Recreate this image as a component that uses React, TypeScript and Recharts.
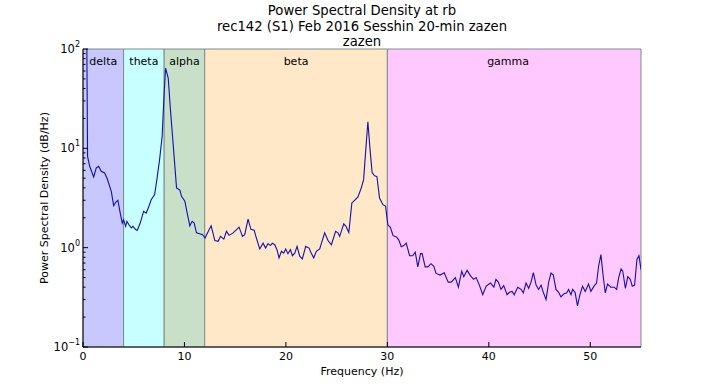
import React from 'react';
import {
  LineChart,
  Line,
  XAxis,
  YAxis,
  ReferenceArea,
  ReferenceDot,
} from 'recharts';

// Frequency (Hz) of each traced vertex
const freqs = [
  0.35, 0.45, 0.66, 1.05, 1.31, 1.54, 1.8, 2.13, 2.36, 2.79, 3.02, 3.22, 3.44, 3.67, 3.87,
  4.0, 4.2, 4.33, 4.53, 4.76, 4.92, 5.19, 5.35, 5.64, 5.97, 6.23, 6.5, 6.72, 7.06, 7.28,
  7.55, 7.8, 7.97, 8.14, 8.4, 8.63, 8.89, 9.22, 9.55, 9.71, 10.04, 10.27, 10.53, 10.76,
  10.96, 11.19, 11.5, 11.78, 12.04, 12.4, 12.63, 13.0, 13.32, 13.55, 13.88, 14.14, 14.4,
  14.8, 15.13, 15.38, 15.72, 15.94, 16.27, 16.55, 16.87, 17.09, 17.42, 17.75, 18.0, 18.24,
  18.47, 18.66, 18.9, 19.12, 19.32, 19.56, 19.78, 19.98, 20.2, 20.44, 20.64, 20.87, 21.1,
  21.36, 21.62, 21.95, 22.28, 22.5, 22.74, 23.0, 23.33, 23.82, 24.15, 24.48, 24.9, 25.13,
  25.3, 25.7, 25.92, 26.2, 26.5, 26.77, 27.1, 27.43, 27.66, 27.85, 28.08, 28.32, 28.5,
  28.74, 28.97, 29.23, 29.56, 29.82, 30.05, 30.3, 30.56, 30.9, 31.12, 31.37, 31.62, 31.86,
  32.19, 32.5, 32.75, 33.0, 33.27, 33.43, 33.73, 34.0, 34.3, 34.58, 34.8, 35.2, 35.6, 36.0,
  36.3, 36.7, 37.0, 37.33, 37.53, 37.86, 38.2, 38.5, 38.75, 39.07, 39.4, 39.74, 40.16,
  40.5, 40.7, 40.94, 41.2, 41.47, 41.8, 42.03, 42.3, 42.5, 42.85, 43.18, 43.4, 43.67,
  43.93, 44.16, 44.39, 44.66, 44.91, 45.15, 45.37, 45.64, 45.9, 46.13, 46.36, 46.62,
  46.88, 47.1, 47.44, 47.67, 47.86, 48.1, 48.26, 48.5, 48.74, 48.98, 49.24, 49.5, 49.83,
  50.06, 50.4, 50.62, 50.82, 51.05, 51.28, 51.48, 51.7, 52.03, 52.36, 52.6, 52.8, 53.04,
  53.2, 53.46, 53.7, 53.94, 54.14, 54.37, 54.6, 54.8, 55.0,
];

// Power spectral density at each vertex
const psd = [
  300, 8.3, 6.6, 5.15, 6.35, 6.6, 5.87, 5.65, 5.03, 3.69, 2.65, 2.86, 3.0, 2.23, 1.77,
  1.91, 1.64, 1.84, 1.7, 1.58, 1.64, 1.52, 1.49, 1.77, 2.32, 2.23, 2.61, 3.04, 3.42, 4.84,
  7.7, 13.2, 31, 64, 51, 23.6, 10.9, 4.0, 3.8, 3.29, 2.93, 2.23, 1.66, 1.84,
  1.77, 1.41, 1.38, 1.35, 1.25, 1.5, 1.66, 1.18, 1.16, 1.3, 1.22, 1.46, 1.33,
  1.41, 1.52, 1.61, 1.3, 1.35, 1.94, 1.53, 1.5, 1.25, 0.97, 1.11, 0.99, 1.1,
  1.05, 1.11, 1.07, 0.955, 0.79, 0.92, 0.88, 0.97, 0.87, 0.955, 0.83, 0.88, 1.03,
  0.82, 0.77, 1.03, 0.99, 0.88, 0.79, 0.92, 0.97, 1.41, 1.18, 1.07, 1.46, 1.41,
  1.3, 1.74, 1.64, 1.42, 2.82, 3.0, 3.24, 4.0, 4.84, 9.0, 18.5, 9.0, 5.7,
  5.3, 5.2, 3.16, 2.71, 2.62, 1.7, 1.6, 1.32, 1.28, 1.2, 1.02, 1.05, 1.11,
  0.83, 0.83, 0.9, 0.64, 0.87, 0.87, 0.64, 0.64, 0.69, 0.65, 0.55, 0.53, 0.56, 0.45,
  0.45, 0.5, 0.4, 0.58, 0.51, 0.59, 0.52, 0.48, 0.5, 0.42, 0.336, 0.41, 0.44,
  0.4, 0.48, 0.45, 0.38, 0.415, 0.336, 0.355, 0.363, 0.336, 0.4, 0.38, 0.35, 0.44,
  0.39, 0.45, 0.56, 0.42, 0.38, 0.42, 0.355, 0.3, 0.45, 0.555, 0.53, 0.38,
  0.355, 0.32, 0.345, 0.35, 0.38, 0.336, 0.38, 0.355, 0.26, 0.336, 0.41, 0.363, 0.43,
  0.363, 0.415, 0.44, 0.65, 0.85, 0.51, 0.35, 0.43, 0.4, 0.4, 0.38, 0.5, 0.61,
  0.58, 0.39, 0.51, 0.48, 0.41, 0.42, 0.76, 0.83, 0.6,
];

const bandNames = ['delta', 'theta', 'alpha', 'beta', 'gamma'];
const bandStarts = [0, 4, 8, 12, 30];
const bandEnds = [4, 8, 12, 30, 55];
const bandColors = ['#c8c8ff', '#c8ffff', '#c8e0c8', '#ffe8c8', '#ffc8ff'];
const bandLabelX = [2, 6, 10, 21, 41.9];
const bandLabelY = 75;

const xTicks = [0, 10, 20, 30, 40, 50];
const yMajor = [0.1, 1, 10, 100];
const yAllTicks = [
  0.1, 0.2, 0.3, 0.4, 0.5, 0.6, 0.7, 0.8, 0.9,
  1, 2, 3, 4, 5, 6, 7, 8, 9,
  10, 20, 30, 40, 50, 60, 70, 80, 90, 100,
];

const titleLines = [
  'Power Spectral Density at rb',
  'rec142 (S1) Feb 2016 Sesshin 20-min zazen',
  'zazen',
];

const data = freqs.map((f, i) => ({ f, p: psd[i] }));

const FONT = 'DejaVu Sans';

const supText = (v: number) => {
  const e = Math.round(Math.log10(v));
  return e < 0 ? '\u2212' + String(-e) : String(e);
};

const YTickLeft = (props: any) => {
  const { x, y, payload } = props;
  const v = payload.value;
  const major = yMajor.includes(v);
  return (
    <g>
      <line x1={x} y1={y} x2={x + (major ? 5 : 2.5)} y2={y} stroke="#000" strokeWidth={1} />
      {major && (
        <text x={x - 3} y={y + 4} textAnchor="end" fontSize={11.5} fill="#000" fontFamily={FONT}>
          10
          <tspan dy={-6} fontSize={8}>
            {supText(v)}
          </tspan>
        </text>
      )}
    </g>
  );
};

const YTickRight = (props: any) => {
  const { x, y, payload } = props;
  const major = yMajor.includes(payload.value);
  return <line x1={x} y1={y} x2={x - (major ? 5 : 2.5)} y2={y} stroke="#000" strokeWidth={1} />;
};

const XTickBottom = (props: any) => {
  const { x, y, payload } = props;
  return (
    <g>
      <line x1={x} y1={y} x2={x} y2={y - 5} stroke="#000" strokeWidth={1} />
      <text x={x} y={y + 13} textAnchor="middle" fontSize={11} fill="#000" fontFamily={FONT}>
        {payload.value}
      </text>
    </g>
  );
};

const XTickTop = (props: any) => {
  const { x, y } = props;
  return <line x1={x} y1={y} x2={x} y2={y + 5} stroke="#000" strokeWidth={1} />;
};

export default function App() {
  return (
    <div style={{ position: 'absolute', left: 0, top: 0, width: 705, height: 387, background: '#fff' }}>
      {titleLines.map((t, i) => (
        <div
          key={i}
          style={{
            position: 'absolute',
            left: 0,
            width: 724,
            top: 3 + i * 15.5,
            textAlign: 'center',
            fontFamily: FONT,
            fontSize: 13.2,
            lineHeight: '16px',
            color: '#000',
          }}
        >
          {t}
        </div>
      ))}
      <LineChart
        width={705}
        height={387}
        data={data}
        margin={{ top: 49, right: 64, bottom: 0, left: 0 }}
        style={{ fontFamily: FONT }}
      >
        <XAxis
          dataKey="f"
          type="number"
          domain={[0, 55]}
          ticks={xTicks}
          interval={0}
          height={40}
          tickSize={0}
          tickMargin={0}
          tick={<XTickBottom />}
          axisLine={{ stroke: '#000', strokeWidth: 1 }}
          allowDataOverflow
          label={{ value: 'Frequency (Hz)', position: 'center', dy: 4, fontSize: 11, fill: '#000', fontFamily: FONT }}
        />
        <XAxis
          xAxisId="top"
          orientation="top"
          dataKey="f"
          type="number"
          domain={[0, 55]}
          ticks={xTicks}
          interval={0}
          height={0}
          tickSize={0}
          tickMargin={0}
          tick={<XTickTop />}
          axisLine={{ stroke: '#000', strokeWidth: 1 }}
          allowDataOverflow
        />
        <YAxis
          type="number"
          scale="log"
          domain={[0.1, 100]}
          ticks={yAllTicks}
          interval={0}
          width={83}
          tickSize={0}
          tickMargin={0}
          tick={<YTickLeft />}
          axisLine={{ stroke: '#000', strokeWidth: 1 }}
          allowDataOverflow
          label={{
            value: 'Power Spectral Density (dB/Hz)',
            angle: -90,
            position: 'center',
            dx: 3,
            fontSize: 11,
            fill: '#000',
            fontFamily: FONT,
          }}
        />
        <YAxis
          yAxisId="right"
          orientation="right"
          type="number"
          scale="log"
          domain={[0.1, 100]}
          ticks={yAllTicks}
          interval={0}
          width={0}
          tickSize={0}
          tickMargin={0}
          tick={<YTickRight />}
          axisLine={{ stroke: '#000', strokeWidth: 1 }}
          allowDataOverflow
        />
        {bandNames.map((n, i) => (
          <ReferenceArea
            key={n}
            x1={bandStarts[i]}
            x2={bandEnds[i]}
            fill={bandColors[i]}
            fillOpacity={1}
            stroke="#7f8c8c"
            strokeWidth={1}
          />
        ))}
        {bandNames.map((n, i) => (
          <ReferenceDot
            key={'l' + n}
            x={bandLabelX[i]}
            y={bandLabelY}
            r={0}
            fill="none"
            stroke="none"
            label={{ value: n, position: 'center', fontSize: 11, fill: '#000', fontFamily: FONT }}
          />
        ))}
        <Line
          dataKey="p"
          type="linear"
          stroke="#1010b0"
          strokeWidth={1.1}
          dot={false}
          isAnimationActive={false}
        />
      </LineChart>
    </div>
  );
}
